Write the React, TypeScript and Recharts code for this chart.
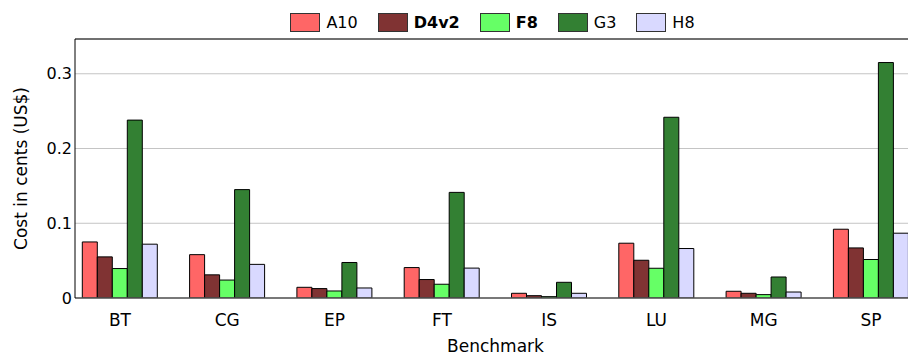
import React from 'react';
import { BarChart, Bar, XAxis, YAxis, CartesianGrid, Legend, ReferenceLine } from 'recharts';

const categories = ['BT', 'CG', 'EP', 'FT', 'IS', 'LU', 'MG', 'SP'];
const a10 = [0.075, 0.058, 0.0143, 0.0407, 0.0063, 0.0733, 0.009, 0.092];
const d4v2 = [0.055, 0.031, 0.0126, 0.0247, 0.0031, 0.0505, 0.0063, 0.067];
const f8 = [0.0394, 0.024, 0.0094, 0.0184, 0.0018, 0.0398, 0.0045, 0.0515];
const g3 = [0.238, 0.145, 0.0475, 0.1413, 0.021, 0.2418, 0.0281, 0.315];
const h8 = [0.072, 0.045, 0.0134, 0.04, 0.0063, 0.0662, 0.008, 0.0867];
const yTicks = [0, 0.1, 0.2, 0.3];
const yMax = 0.3465;

const FONT = '"DejaVu Sans", sans-serif';

const seriesDefs = [
  { key: 'A10', values: a10, color: '#ff6666', bold: false },
  { key: 'D4v2', values: d4v2, color: '#803333', bold: true },
  { key: 'F8', values: f8, color: '#66ff66', bold: true },
  { key: 'G3', values: g3, color: '#338033', bold: false },
  { key: 'H8', values: h8, color: '#d9d9ff', bold: false },
];

const data = categories.map((c, i) => {
  const row: Record<string, any> = { name: c };
  seriesDefs.forEach((s) => {
    row[s.key] = s.values[i];
  });
  return row;
});

const renderLegend = () => (
  <div
    style={{
      display: 'flex',
      justifyContent: 'center',
      alignItems: 'center',
      fontFamily: FONT,
      fontSize: 16,
      color: '#000',
    }}
  >
    {seriesDefs.map((s, i) => (
      <div key={s.key} style={{ display: 'flex', alignItems: 'center', marginLeft: i ? 20 : 0 }}>
        <span
          style={{
            display: 'inline-block',
            width: 30,
            height: 19,
            boxSizing: 'border-box',
            background: s.color,
            border: '1px solid #333',
          }}
        />
        <span style={{ marginLeft: 6, fontWeight: s.bold ? 'bold' : 'normal', lineHeight: '19px' }}>{s.key}</span>
      </div>
    ))}
  </div>
);

const YLabel = (props: any) => {
  const vb = props.viewBox || {};
  const cy = (vb.y ?? 39) + (vb.height ?? 259) / 2;
  const cx = 20.5;
  return (
    <text
      x={cx}
      y={cy}
      transform={`rotate(-90, ${cx}, ${cy})`}
      textAnchor="middle"
      dominantBaseline="central"
      fontFamily={FONT}
      fontSize={17}
      fill="#000"
    >
      Cost in cents (US$)
    </text>
  );
};

export default function App() {
  return (
    <div style={{ position: 'absolute', left: 0, top: 0, width: 908, height: 356, overflow: 'hidden', background: '#fff' }}>
      <BarChart
        width={930}
        height={356}
        data={data}
        margin={{ top: 39, right: 14, bottom: 0, left: 0 }}
        barSize={15}
        barGap={0}
      >
        <CartesianGrid vertical={false} stroke="#c4c4c4" />
        <XAxis
          dataKey="name"
          height={58}
          padding={{ left: -8.7, right: -8.7 }}
          tickSize={0}
          tickMargin={16}
          tick={{ fontFamily: FONT, fontSize: 17, fill: '#000' }}
          axisLine={{ stroke: '#555', strokeWidth: 1.5 }}
          tickLine={false}
          label={{ value: 'Benchmark', position: 'insideBottom', offset: 4, fontFamily: FONT, fontSize: 17, fill: '#000' }}
        />
        <YAxis
          width={75}
          type="number"
          domain={[0, yMax]}
          ticks={yTicks}
          allowDataOverflow
          tickSize={0}
          tickMargin={3}
          tick={{ fontFamily: FONT, fontSize: 16, fill: '#000' }}
          axisLine={{ stroke: '#000' }}
          tickLine={false}
          label={<YLabel />}
        />
        <ReferenceLine y={yMax} stroke="#000" ifOverflow="extendDomain" />
        <Legend verticalAlign="middle" layout="horizontal" content={renderLegend} wrapperStyle={{ top: 13, left: 0, width: 985 }} />
        {seriesDefs.map((s) => (
          <Bar key={s.key} dataKey={s.key} fill={s.color} stroke="#000" strokeWidth={1} isAnimationActive={false} />
        ))}
      </BarChart>
    </div>
  );
}
